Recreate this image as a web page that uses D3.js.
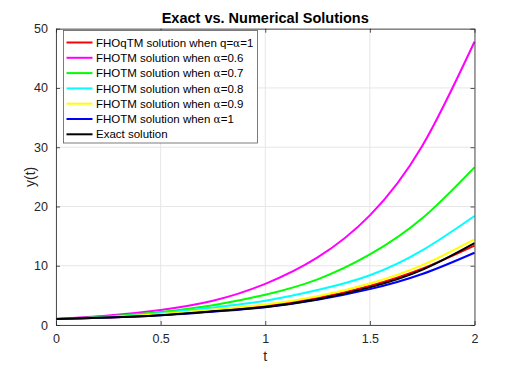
<!DOCTYPE html>
<html lang="en">
<head>
<meta charset="UTF-8">
<title>Exact vs. Numerical Solutions</title>
<script src="https://d3js.org/d3.v7.min.js"></script>
<style>
  body { margin: 0; background: #fff; }
  svg { font-family: "Liberation Sans", Arial, sans-serif; }
  .grid line { stroke: #e6e6e6; stroke-width: 1; }
  .tick text { fill: #262626; font-size: 12.5px; }
</style>
</head>
<body>
<svg width="509" height="371"></svg>
<script>
// values
const tValues = [0, 0.25, 0.5, 0.75, 1, 1.25, 1.5, 1.75, 2];
const redVals     = [1, 1.27, 1.75, 2.4, 3.2, 4.55, 6.6, 9.5, 13.4];
const magentaVals = [1, 1.6, 2.55, 4.1, 6.95, 11.4, 18.5, 30.2, 47.8];
const greenVals   = [1, 1.45, 2.2, 3.35, 5.1, 7.7, 11.9, 18.0, 26.6];
const cyanVals    = [1, 1.35, 2.0, 2.95, 4.1, 5.9, 8.4, 12.6, 18.4];
const yellowVals  = [1, 1.3, 1.85, 2.6, 3.45, 4.85, 7.0, 10.1, 14.45];
const blueVals    = [1, 1.25, 1.65, 2.25, 3.0, 4.25, 6.05, 8.6, 12.2];
const exactVals   = [1, 1.25, 1.65, 2.3, 3.05, 4.35, 6.35, 9.3, 13.8];

const xTicks = [0, 0.5, 1, 1.5, 2];
const yTicks = [0, 10, 20, 30, 40, 50];

const series = [
  { label: "FHOqTM solution when q=", alpha: "α", tail: "=1", color: "#ff0000", vals: redVals },
  { label: "FHOTM solution when ", alpha: "α", tail: "=0.6", color: "#ff00ff", vals: magentaVals },
  { label: "FHOTM solution when ", alpha: "α", tail: "=0.7", color: "#00ff00", vals: greenVals },
  { label: "FHOTM solution when ", alpha: "α", tail: "=0.8", color: "#00ffff", vals: cyanVals },
  { label: "FHOTM solution when ", alpha: "α", tail: "=0.9", color: "#ffff00", vals: yellowVals },
  { label: "FHOTM solution when ", alpha: "α", tail: "=1", color: "#0000ff", vals: blueVals },
  { label: "Exact solution", alpha: "", tail: "", color: "#000000", vals: exactVals }
];

const svg = d3.select("svg");
const margin = { left: 56, right: 34.5, top: 28.7, bottom: 46 };
const width = 509 - margin.left - margin.right;
const height = 371 - margin.top - margin.bottom;

const x = d3.scaleLinear().domain([0, 2]).range([0, width]);
const y = d3.scaleLinear().domain([0, 50]).range([height, 0]);

const g = svg.append("g").attr("transform", `translate(${margin.left},${margin.top})`);

// grid
const grid = g.append("g").attr("class", "grid");
grid.selectAll(".gx").data(xTicks).enter().append("line")
  .attr("x1", d => x(d)).attr("x2", d => x(d)).attr("y1", 0).attr("y2", height);
grid.selectAll(".gy").data(yTicks).enter().append("line")
  .attr("y1", d => y(d)).attr("y2", d => y(d)).attr("x1", 0).attr("x2", width);

// curves
const line = d3.line()
  .x((d, i) => x(tValues[i]))
  .y(d => y(d))
  .curve(d3.curveNatural);

g.append("g").selectAll("path").data(series).enter().append("path")
  .attr("fill", "none")
  .attr("stroke", d => d.color)
  .attr("stroke-width", 2)
  .attr("d", d => line(d.vals));

// axes (box with inward ticks, MATLAB style)
const axisColor = "#262626";
function styleAxis(sel) {
  sel.select(".domain").attr("stroke", axisColor).attr("stroke-width", 0.8);
  sel.selectAll(".tick line").attr("stroke", axisColor).attr("stroke-width", 0.8);
}
g.append("g").attr("transform", `translate(0,${height})`)
  .call(d3.axisBottom(x).tickValues(xTicks).tickFormat(d3.format("")).tickSizeInner(-4).tickSizeOuter(0).tickPadding(9))
  .call(styleAxis);
g.append("g")
  .call(d3.axisTop(x).tickValues(xTicks).tickFormat("").tickSizeInner(-4).tickSizeOuter(0))
  .call(styleAxis);
g.append("g")
  .call(d3.axisLeft(y).tickValues(yTicks).tickSizeInner(-4).tickSizeOuter(0).tickPadding(8))
  .call(styleAxis);
g.append("g").attr("transform", `translate(${width},0)`)
  .call(d3.axisRight(y).tickValues(yTicks).tickFormat("").tickSizeInner(-4).tickSizeOuter(0))
  .call(styleAxis);
g.selectAll(".tick text").attr("font-family", "Liberation Sans, Arial, sans-serif");

// title and labels
svg.append("text")
  .attr("x", margin.left + width / 2).attr("y", 22.5)
  .attr("text-anchor", "middle")
  .attr("font-size", 14.5).attr("font-weight", "bold").attr("fill", "#000")
  .text("Exact vs. Numerical Solutions");
svg.append("text")
  .attr("x", margin.left + width / 2).attr("y", 361)
  .attr("text-anchor", "middle").attr("font-size", 14).attr("fill", axisColor)
  .text("t");
svg.append("text")
  .attr("transform", `translate(35,${margin.top + height / 2}) rotate(-90)`)
  .attr("text-anchor", "middle").attr("font-size", 14).attr("fill", axisColor)
  .text("y(t)");

// legend
const leg = svg.append("g").attr("transform", "translate(63.5,30.5)");
leg.append("rect").attr("width", 194).attr("height", 112.5)
  .attr("fill", "#fff").attr("stroke", "#5a5a5a").attr("stroke-width", 0.8);
const item = leg.selectAll(".item").data(series).enter().append("g")
  .attr("transform", (d, i) => `translate(0,${12 + i * 15.3})`);
item.append("line").attr("x1", 3).attr("x2", 29)
  .attr("stroke", d => d.color).attr("stroke-width", 2);
const txt = item.append("text").attr("x", 32.5).attr("dy", "0.36em")
  .attr("font-size", 11.5).attr("fill", "#000");
txt.append("tspan").text(d => d.label);
txt.append("tspan").attr("font-family", "DejaVu Serif, serif").attr("font-size", 10.5).text(d => d.alpha);
txt.append("tspan").text(d => d.tail);
</script>
</body>
</html>
